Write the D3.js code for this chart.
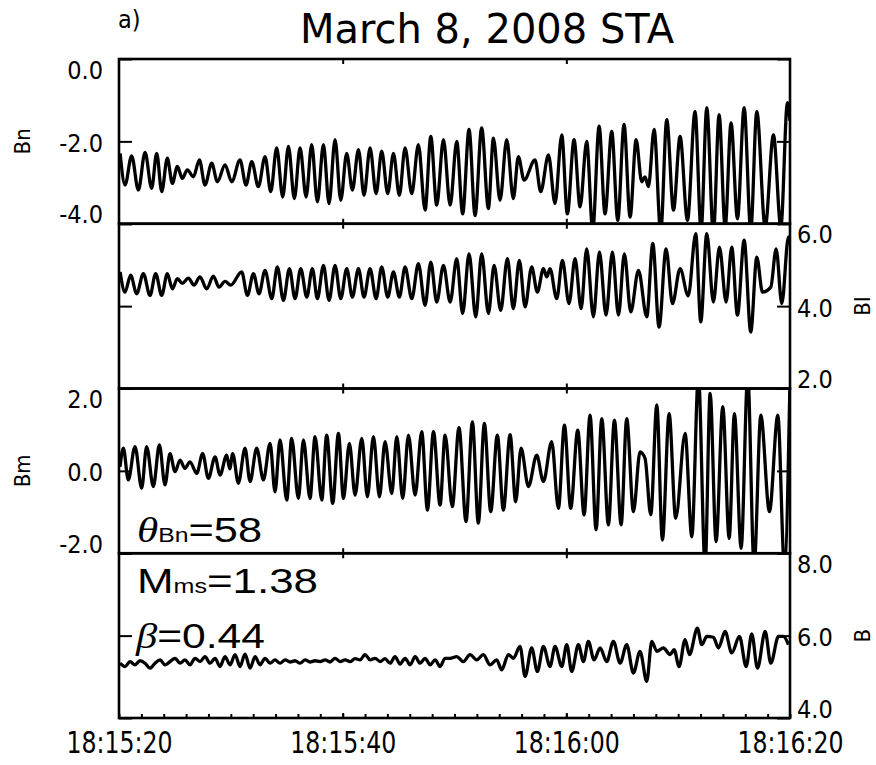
<!DOCTYPE html>
<html>
<head>
<meta charset="utf-8">
<script src="https://cdn.jsdelivr.net/npm/d3@7"></script>
<style>
body { margin: 0; background: #fff; }
text { fill: #000; }
.tick text { font-family: 'DejaVu Sans Condensed', 'DejaVu Sans', sans-serif; font-stretch: condensed; font-size: 25px; }
.xlab .tick text { font-size: 30px; }
</style>
</head>
<body>
<svg id="chart"></svg>
<script>
var w = 876,
	h = 765,
	left = 119,
	right = 790,
	top0 = 59,
	panelH = 164.75;

// time in seconds after 18:15:20, value in nT
var timeLabels = ['18:15:20', '18:15:40', '18:16:00', '18:16:20'];

var bnPts = [[0.1,-2.29],[0.54,-3.06],[1.13,-2.35],[1.73,-3.18],[2.33,-2.27],[2.92,-3.14],[3.37,-2.29],[3.82,-3.22],
	[4.32,-2.41],[4.77,-3.02],[5.22,-2.61],[5.66,-2.90],[6.11,-2.69],[6.65,-2.86],[7.19,-2.45],[7.69,-3.06],[8.29,-2.53],
	[8.8,-2.98],[9.48,-2.57],[10.08,-2.98],[10.82,-2.45],[11.36,-3.06],[11.87,-2.49],[12.46,-3.10],[13.06,-2.37],
	[13.57,-3.22],[14.1,-2.16],[14.64,-3.35],[15.15,-2.12],[15.68,-3.39],[16.19,-2.16],[16.73,-3.35],[17.23,-2.08],
	[17.74,-3.47],[18.28,-2.08],[18.78,-3.51],[19.32,-1.96],[19.83,-3.43],[20.36,-2.29],[20.87,-3.18],[21.41,-2.2],
	[21.91,-3.31],[22.45,-2.16],[22.99,-3.27],[23.49,-2.24],[24.03,-3.27],[24.54,-2.29],[25.07,-3.31],[25.58,-2.16],
	[26.18,-3.27],[26.77,-2.08],[27.37,-3.67],[27.88,-1.88],[28.41,-3.55],[29.01,-1.96],[29.61,-3.55],[30.2,-2.0],
	[30.73,-3.76],[31.3,-1.71],[31.84,-3.8],[32.43,-1.67],[33.03,-3.63],[33.48,-1.92],[34.07,-3.43],[34.67,-1.96],
	[35.26,-3.39],[35.71,-2.37],[36.22,-2.94],[37.2,-2.45],[37.71,-3.22],[38.4,-2.33],[38.99,-3.51],[39.59,-1.84],
	[40.09,-3.76],[40.69,-1.96],[41.23,-3.59],[41.82,-2.0],[42.36,-4.16],[42.93,-1.63],[43.46,-3.76],[44.06,-1.76],
	[44.6,-3.92],[45.16,-1.59],[45.7,-3.84],[46.24,-1.96],[46.74,-2.98],[47.04,-2.86],[47.34,-3.1],[47.85,-1.71],
	[48.44,-4.2],[48.98,-1.47],[49.58,-3.67],[50.17,-1.88],[50.83,-3.92],[51.51,-1.27],[52.05,-4.16],[52.56,-1.18],
	[53.15,-4.24],[53.66,-1.35],[54.2,-4.08],[54.73,-1.55],[55.3,-3.88],[55.9,-1.18],[56.49,-4.16],[57.03,-1.27],
	[57.78,-4.08],[58.52,-1.84],[59.18,-4.08],[59.77,-1.06],[60,-1.5]];

var blPts = [[0.1,4.83],[0.54,4.34],[1.04,4.75],[1.58,4.30],[2.18,4.79],[2.77,4.26],[3.28,4.79],[3.82,4.26],[4.32,4.79],
	[4.77,4.42],[5.22,4.67],[5.66,4.55],[6.2,4.68],[6.71,4.51],[7.24,4.71],[7.84,4.42],[8.44,4.73],[8.94,4.46],[9.48,4.60],
	[9.99,4.51],[10.97,4.83],[11.48,4.26],[12.02,4.79],[12.52,4.30],[13.06,4.87],[13.66,4.18],[14.16,4.95],[14.7,4.14],
	[15.24,4.91],[15.74,4.18],[16.25,4.91],[16.79,4.22],[17.29,4.91],[17.74,4.18],[18.28,4.99],[18.78,4.14],[19.32,4.99],
	[19.83,4.18],[20.36,4.91],[20.87,4.22],[21.41,4.91],[21.91,4.22],[22.45,4.91],[22.99,4.18],[23.49,4.95],[24.03,4.22],
	[24.54,4.83],[25.07,4.22],[25.58,4.95],[26.18,4.18],[26.77,5.03],[27.37,4.02],[27.88,5.07],[28.41,4.10],[29.01,4.99],
	[29.61,4.10],[30.2,5.15],[30.73,3.82],[31.3,5.27],[31.9,3.74],[32.43,5.27],[33.03,3.82],[33.54,4.99],[34.13,3.90],
	[34.73,5.15],[35.26,3.94],[35.8,5.11],[36.31,3.98],[36.9,4.95],[37.41,4.34],[37.95,4.91],[38.25,4.71],[38.54,4.91],
	[39.14,4.18],[39.65,5.11],[40.24,4.06],[40.78,5.15],[41.32,3.94],[41.82,5.39],[42.42,3.74],[42.96,5.31],[43.55,3.78],
	[44.12,5.31],[44.66,3.78],[45.19,5.27],[45.76,3.86],[46.45,4.87],[47.19,3.74],[47.73,5.52],[48.29,3.49],[48.92,5.39],
	[49.49,4.06],[50.17,4.91],[50.9,4.25],[51.57,5.76],[52.02,3.62],[52.56,5.76],[53.15,4.10],[53.69,5.43],[54.29,4.10],
	[54.79,5.43],[55.3,3.78],[55.9,5.60],[56.49,3.37],[57.03,5.19],[57.54,4.34],[58.28,4.46],[58.76,5.39],[59.27,4.06],
	[59.86,5.68],[60,5.5]];

var bmPts = [[0.09,0.1],[0.39,0.55],[0.83,-0.22],[1.43,0.59],[2.03,-0.42],[2.47,0.59],[3.07,-0.38],[3.61,0.63],[4.11,-0.34],
	[4.56,0.42],[5.01,-0.02],[5.46,0.26],[5.9,0.06],[6.35,0.22],[6.95,-0.06],[7.48,0.42],[7.99,-0.18],[8.59,0.34],[9.03,-0.10],
	[9.63,0.38],[9.9,0.05],[10.17,0.42],[10.67,-0.30],[11.27,0.55],[11.72,-0.26],[12.31,0.55],[12.91,-0.22],[13.51,0.67],
	[13.95,-0.51],[14.4,0.75],[15.0,-0.71],[15.44,0.79],[16.04,-0.67],[16.49,0.75],[17.08,-0.67],[17.53,0.83],[18.13,-0.71],
	[18.57,0.87],[19.11,-0.79],[19.62,0.91],[20.07,-0.67],[20.6,0.67],[21.11,-0.59],[21.71,0.79],[22.21,-0.63],[22.75,0.83],
	[23.29,-0.63],[23.79,0.71],[24.39,-0.55],[24.84,0.83],[25.37,-0.67],[25.88,0.87],[26.48,-0.59],[27.07,0.95],[27.58,-0.95],
	[28.12,0.95],[28.71,-0.83],[29.16,0.87],[29.8,-0.87],[30.4,1.05],[31.03,-1.23],[31.6,1.19],[32.13,-1.27],[32.67,1.15],
	[33.24,-0.99],[33.83,0.87],[34.37,-0.95],[34.97,0.88],[35.47,-0.75],[35.95,0.55],[36.61,-0.38],[37.35,0.38],[37.95,-0.26],
	[38.69,0.71],[39.29,-0.91],[39.83,1.11],[40.39,-0.91],[41.02,0.99],[41.59,-1.07],[42.12,1.35],[42.66,-1.43],[43.17,1.27],
	[43.76,-1.31],[44.3,1.23],[44.9,-1.31],[45.4,1.27],[46.0,-0.99],[46.59,0.46],[47.04,0.30],[47.55,-1.07],[48.09,1.60],
	[48.59,-1.68],[49.19,1.39],[49.78,-1.15],[50.62,0.91],[51.22,-1.60],[51.81,2.3],[52.41,-2.3],[52.86,1.88],[53.39,-1.72],
	[53.99,1.56],[54.56,-1.64],[55.03,1.39],[55.63,-1.88],[56.22,2.3],[56.79,-2.3],[57.39,1.35],[58.16,-0.99],[58.91,1.35],
	[59.5,-2.3],[60,2.2]];

var bPts = [[0.09,5.33],[0.54,5.25],[0.98,5.37],[1.43,5.29],[1.88,5.39],[2.33,5.33],[2.77,5.21],[3.22,5.33],[3.67,5.41],
	[4.11,5.29],[4.56,5.37],[5.01,5.45],[5.46,5.33],[5.9,5.41],[6.35,5.29],[6.8,5.45],[7.25,5.37],[7.69,5.49],[8.14,5.33],
	[8.59,5.45],[9.03,5.25],[9.48,5.49],[9.93,5.29],[10.38,5.54],[10.82,5.25],[11.27,5.55],[11.72,5.21],[12.17,5.49],
	[12.61,5.29],[13.06,5.45],[13.51,5.33],[13.95,5.41],[14.4,5.33],[14.85,5.41],[15.3,5.36],[15.74,5.39],[16.19,5.33],
	[16.64,5.41],[17.08,5.36],[17.53,5.39],[17.98,5.37],[18.43,5.41],[18.87,5.36],[19.32,5.45],[19.77,5.37],[20.22,5.41],
	[20.66,5.37],[21.11,5.44],[21.56,5.41],[22.0,5.54],[22.45,5.41],[22.9,5.45],[23.35,5.37],[23.79,5.44],[24.24,5.33],
	[24.69,5.49],[25.13,5.31],[25.58,5.45],[26.03,5.29],[26.48,5.49],[26.92,5.33],[27.37,5.45],[27.82,5.29],[28.27,5.41],
	[28.71,5.25],[29.16,5.45],[29.6,5.45],[30.2,5.49],[30.79,5.37],[31.39,5.54],[31.99,5.41],[32.58,5.54],[33.18,5.29],
	[33.77,5.41],[34.22,5.17],[34.82,5.54],[35.26,5.45],[35.86,5.74],[36.31,5.01],[36.9,5.70],[37.41,5.13],[37.95,5.74],
	[38.54,5.25],[38.99,5.74],[39.59,5.25],[40.04,5.78],[40.48,5.13],[41.08,5.78],[41.53,5.37],[41.97,5.86],[42.48,5.41],
	[43.02,5.70],[43.61,5.37],[44.21,5.86],[44.81,5.33],[45.4,5.78],[46.0,5.09],[46.59,5.62],[47.19,4.89],[47.64,5.86],
	[48.09,5.62],[48.68,5.70],[49.28,5.54],[49.64,5.66],[50.08,5.25],[50.62,5.90],[51.01,5.54],[51.72,6.18],[52.11,5.78],
	[52.56,5.98],[53.15,5.96],[53.6,5.70],[54.2,6.10],[54.79,5.58],[55.48,5.98],[56.08,5.25],[56.58,6.04],[57.09,5.21],
	[57.78,6.10],[58.28,5.33],[58.97,5.98],[59.41,5.98],[59.86,5.78]];

var panels = [
	{title: 'Bn', pts: bnPts, dom: [-4, 0], ticks: [0, -2, -4], side: 'left'},
	{title: 'Bl', pts: blPts, dom: [2, 6], ticks: [6, 4, 2], side: 'right'},
	{title: 'Bm', pts: bmPts, dom: [-2, 2], ticks: [2, 0, -2], side: 'left'},
	{title: 'B', pts: bPts, dom: [4, 8], ticks: [8, 6, 4], side: 'right'}
];

var t0 = Date.UTC(2008, 2, 8, 18, 15, 20);
function toDate(s) { return new Date(t0 + s * 1000) }

var x = d3.scaleUtc().domain([toDate(0), toDate(60)]).range([left, right]);
var majorTicks = [toDate(20), toDate(40)];
var labelTicks = timeLabels.map(function(d, i) { return toDate(i * 20) });

var svg = d3.select('#chart').attr('width', w).attr('height', h);

svg.append('text')
	.attr('x', 118).attr('y', 28)
	.style('font-family', "'DejaVu Sans Condensed','DejaVu Sans',sans-serif")
	.style('font-stretch', 'condensed').style('font-size', '25px')
	.text('a)');
svg.append('text')
	.attr('x', 487).attr('y', 43)
	.attr('text-anchor', 'middle')
	.style('font-family', 'DejaVu Sans').style('font-size', '40px')
	.text('March 8, 2008 STA');

panels.forEach(function(p, i) {
	var y0 = top0 + i * panelH, y1 = y0 + panelH;
	var y = d3.scaleLinear().domain(p.dom).range([y1, y0]);
	var g = svg.append('g');

	g.append('clipPath').attr('id', 'clip' + i)
		.append('rect').attr('x', left).attr('y', y0).attr('width', right - left).attr('height', panelH);

	var line = d3.line()
		.x(function(d) { return x(toDate(d[0])) })
		.y(function(d) { return y(d[1]) })
		.curve(d3.curveMonotoneX);

	g.append('path')
		.datum(p.pts)
		.attr('clip-path', 'url(#clip' + i + ')')
		.attr('d', line)
		.attr('fill', 'none')
		.attr('stroke', '#000')
		.attr('stroke-width', 3.3)
		.attr('stroke-linejoin', 'round');

	// y axes: labelled side and plain side
	var labelled = p.side == 'left' ? d3.axisLeft(y) : d3.axisRight(y);
	var plain = p.side == 'left' ? d3.axisRight(y) : d3.axisLeft(y);
	var ax = g.append('g')
		.attr('transform', 'translate(' + (p.side == 'left' ? left : right) + ',0)')
		.call(labelled.tickValues(p.ticks).tickSizeInner(-13).tickSizeOuter(0).tickPadding(p.side == 'left' ? 16 : 7)
			.tickFormat(function(d) { return d.toFixed(1) }));
	ax.selectAll('text').attr('y', function(d, k) { return k == 0 ? 11 : (k == 2 ? -9 : 2) });
	g.append('g')
		.attr('transform', 'translate(' + (p.side == 'left' ? right : left) + ',0)')
		.call(plain.tickValues(p.ticks).tickSizeInner(-13).tickSizeOuter(0).tickFormat(''));

	// time ticks on top and bottom of every panel
	g.append('g').attr('transform', 'translate(0,' + y0 + ')')
		.call(d3.axisTop(x).tickValues(majorTicks).tickSizeInner(-5).tickSizeOuter(0).tickFormat(''));
	g.append('g').attr('transform', 'translate(0,' + y1 + ')')
		.call(d3.axisBottom(x).tickValues(majorTicks).tickSizeInner(-5).tickSizeOuter(0).tickFormat(''));
	if (i == 3) {
		g.append('g').attr('transform', 'translate(0,' + y1 + ')')
			.call(d3.axisBottom(x).ticks(d3.utcSecond.every(2)).tickSizeInner(-4).tickSizeOuter(0).tickFormat(''));
		var xl = g.append('g').attr('class', 'xlab').attr('transform', 'translate(0,' + y1 + ')')
			.call(d3.axisBottom(x).tickValues(labelTicks).tickSize(0).tickFormat(function(d, k) { return timeLabels[k] }));
		xl.selectAll('text').attr('y', 35).attr('dy', 0).attr('textLength', 106).attr('lengthAdjust', 'spacingAndGlyphs');
	}
	g.selectAll('.domain').remove();
	g.selectAll('.tick line').attr('stroke', '#000').attr('stroke-width', 2);

	g.append('rect')
		.attr('x', left).attr('y', y0).attr('width', right - left).attr('height', panelH)
		.attr('fill', 'none').attr('stroke', '#000').attr('stroke-width', 2.6);

	var tx = p.side == 'left' ? 22 : 862;
	g.append('text')
		.attr('transform', 'translate(' + tx + ',' + ((y0 + y1) / 2) + ') rotate(-90)')
		.attr('text-anchor', 'middle').attr('dy', '0.35em')
		.style('font-family', "'DejaVu Sans Condensed','DejaVu Sans',sans-serif")
		.style('font-stretch', 'condensed').style('font-size', '22px')
		.text(p.title);
});

// annotations
function note(xp, yp, len, parts) {
	var t = svg.append('text')
		.attr('x', xp).attr('y', yp)
		.attr('textLength', len).attr('lengthAdjust', 'spacingAndGlyphs')
		.style('font-family', "'Liberation Sans',Arial,sans-serif");
	parts.forEach(function(s) {
		var sp = t.append('tspan').text(s[0]).style('font-size', s[1] + 'px');
		if (s[2]) sp.style('font-family', "'Liberation Serif',serif").style('font-style', 'italic');
	});
}
note(137, 542, 125, [['\u03b8', 35, true], ['Bn', 20], ['=58', 35]]);
note(137, 593, 181, [['M', 35], ['ms', 20], ['=1.38', 35]]);
note(136, 648, 129, [['\u03b2', 35, true], ['=0.44', 35]]);
</script>
</body>
</html>
